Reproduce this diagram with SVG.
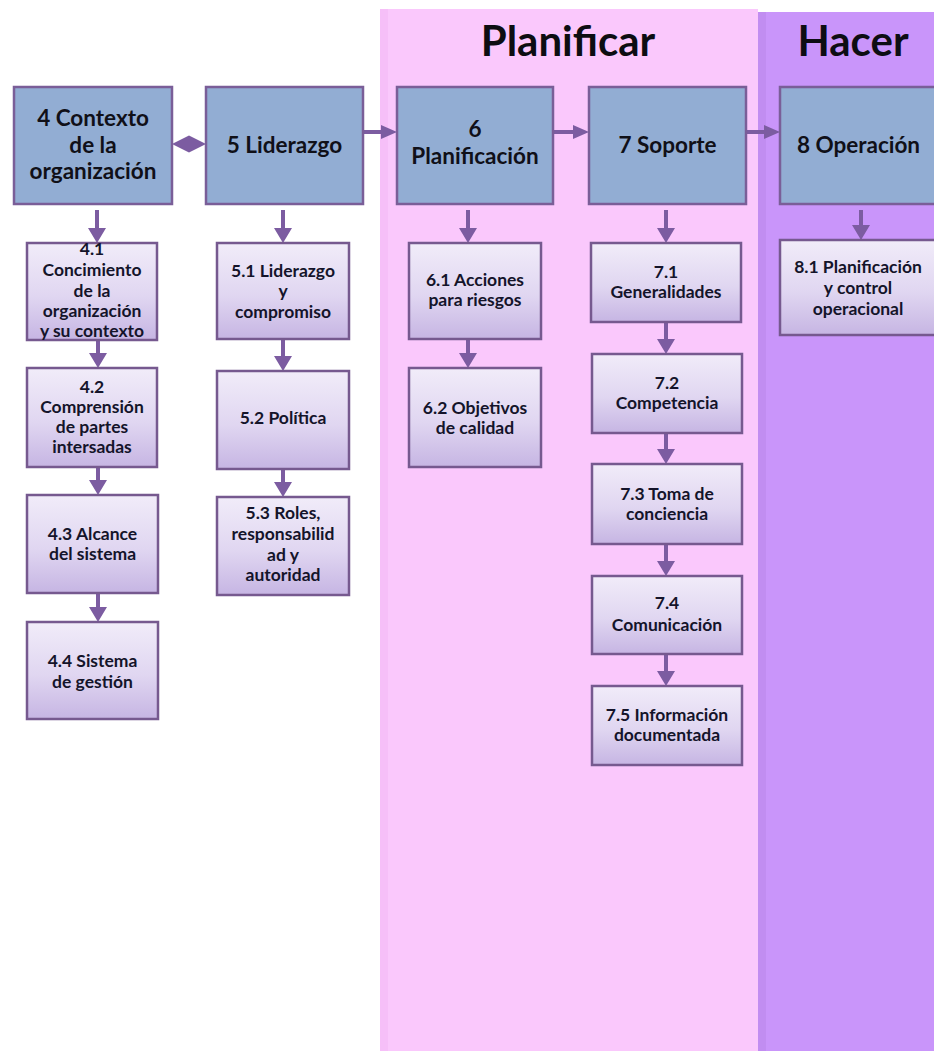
<svg xmlns="http://www.w3.org/2000/svg" width="934" height="1051" viewBox="0 0 934 1051">
<defs>
<linearGradient id="subg" x1="0" y1="0" x2="0" y2="1">
<stop offset="0" stop-color="#F1ECF9"/>
<stop offset="0.55" stop-color="#E0D6F1"/>
<stop offset="1" stop-color="#C6B5E3"/>
</linearGradient>
<style>
.main{fill:#92ADD3;stroke:#7A5E98;stroke-width:2.5}
.sub{fill:url(#subg);stroke:#76598F;stroke-width:2.5}
.t{font-family:Lato,"Open Sans","Liberation Sans",sans-serif;font-weight:bold;text-anchor:middle;fill:#14142A}
.mt{font-size:22.5px;fill:#101018}
.st{font-size:17.5px}
.hd{font-size:42px;fill:#0D0D12}
.arr{fill:#7C5CA1}
</style>
</defs>
<rect x="0" y="0" width="934" height="1051" fill="#FFFFFF"/>
<rect x="380" y="9" width="378" height="1042" fill="#FAC8FC"/>
<rect x="380" y="9" width="8" height="1042" fill="#F6BFF8"/>
<rect x="758" y="12" width="176" height="1042" fill="#C995FA"/>
<rect x="758" y="12" width="8" height="1042" fill="#C18DF1"/>
<text class="t hd" x="568" y="56">Planificar</text>
<text class="t hd" x="853" y="56">Hacer</text>
<g id="connectors">
<path class="arr" d="M172,144 L189,135.5 L206,144 L189,152.5 Z"/>
<path class="arr" d="M363,130 H381 V125 L397,132 L381,139 V134 H363 Z"/>
<path class="arr" d="M553,130 H573 V125 L589,132 L573,139 V134 H553 Z"/>
<path class="arr" d="M746,130 H764 V125 L780,132 L764,139 V134 H746 Z"/>
<path class="arr" d="M95,210 V228 H88 L97,243 L106,228 H99 V210 Z"/>
<path class="arr" d="M96,340 V353 H89 L98,368 L107,353 H100 V340 Z"/>
<path class="arr" d="M96,467 V480 H89 L98,495 L107,480 H100 V467 Z"/>
<path class="arr" d="M96,593 V607 H89 L98,622 L107,607 H100 V593 Z"/>
<path class="arr" d="M281,210 V228 H274 L283,243 L292,228 H285 V210 Z"/>
<path class="arr" d="M281,339 V356 H274 L283,371 L292,356 H285 V339 Z"/>
<path class="arr" d="M281,469 V482 H274 L283,497 L292,482 H285 V469 Z"/>
<path class="arr" d="M466,210 V228 H459 L468,243 L477,228 H470 V210 Z"/>
<path class="arr" d="M466,339 V353 H459 L468,368 L477,353 H470 V339 Z"/>
<path class="arr" d="M664,210 V228 H657 L666,243 L675,228 H668 V210 Z"/>
<path class="arr" d="M664,322 V339 H657 L666,354 L675,339 H668 V322 Z"/>
<path class="arr" d="M664,433 V449 H657 L666,464 L675,449 H668 V433 Z"/>
<path class="arr" d="M664,544 V561 H657 L666,576 L675,561 H668 V544 Z"/>
<path class="arr" d="M664,654 V671 H657 L666,686 L675,671 H668 V654 Z"/>
<path class="arr" d="M859,210 V225 H852 L861,240 L870,225 H863 V210 Z"/>
</g>
<g id="n4"><rect class="main" x="14" y="87" width="158" height="117"/>
<text class="t mt" x="93" y="126">4 Contexto</text><text class="t mt" x="93" y="153">de la</text><text class="t mt" x="93" y="179">organización</text></g>
<g id="n5"><rect class="main" x="206" y="87" width="157" height="117"/>
<text class="t mt" x="284.5" y="153">5 Liderazgo</text></g>
<g id="n6"><rect class="main" x="397" y="87" width="156" height="117"/>
<text class="t mt" x="475" y="137">6</text><text class="t mt" x="475" y="164">Planificación</text></g>
<g id="n7"><rect class="main" x="589" y="87" width="157" height="117"/>
<text class="t mt" x="667.5" y="153">7 Soporte</text></g>
<g id="n8"><rect class="main" x="780" y="87" width="157" height="117"/>
<text class="t mt" x="858.5" y="153">8 Operación</text></g>

<g id="n41"><rect class="sub" x="27" y="243" width="130" height="97"/>
<text class="t st" x="92" y="255">4.1</text><text class="t st" x="92" y="276">Concimiento</text><text class="t st" x="92" y="297">de la</text><text class="t st" x="92" y="317">organización</text><text class="t st" x="92" y="337">y su contexto</text></g>
<g id="n42"><rect class="sub" x="27" y="368" width="130" height="99"/>
<text class="t st" x="92" y="393">4.2</text><text class="t st" x="92" y="413">Comprensión</text><text class="t st" x="92" y="433">de partes</text><text class="t st" x="92" y="453">intersadas</text></g>
<g id="n43"><rect class="sub" x="27" y="495" width="131" height="98"/>
<text class="t st" x="92.5" y="540">4.3 Alcance</text><text class="t st" x="92.5" y="560">del sistema</text></g>
<g id="n44"><rect class="sub" x="27" y="622" width="131" height="97"/>
<text class="t st" x="92.5" y="667">4.4 Sistema</text><text class="t st" x="92.5" y="688">de gestión</text></g>

<g id="n51"><rect class="sub" x="217" y="243" width="132" height="96"/>
<text class="t st" x="283" y="277">5.1 Liderazgo</text><text class="t st" x="283" y="297">y</text><text class="t st" x="283" y="318">compromiso</text></g>
<g id="n52"><rect class="sub" x="217" y="371" width="132" height="98"/>
<text class="t st" x="283" y="424">5.2 Política</text></g>
<g id="n53"><rect class="sub" x="217" y="497" width="132" height="98"/>
<text class="t st" x="283" y="519">5.3 Roles,</text><text class="t st" x="283" y="540">responsabilid</text><text class="t st" x="283" y="561">ad y</text><text class="t st" x="283" y="581">autoridad</text></g>

<g id="n61"><rect class="sub" x="409" y="243" width="132" height="96"/>
<text class="t st" x="475" y="286">6.1 Acciones</text><text class="t st" x="475" y="306">para riesgos</text></g>
<g id="n62"><rect class="sub" x="409" y="368" width="132" height="99"/>
<text class="t st" x="475" y="414">6.2 Objetivos</text><text class="t st" x="475" y="434">de calidad</text></g>

<g id="n71"><rect class="sub" x="591" y="243" width="150" height="79"/>
<text class="t st" x="666" y="278">7.1</text><text class="t st" x="666" y="298">Generalidades</text></g>
<g id="n72"><rect class="sub" x="592" y="354" width="150" height="79"/>
<text class="t st" x="667" y="389">7.2</text><text class="t st" x="667" y="409">Competencia</text></g>
<g id="n73"><rect class="sub" x="592" y="464" width="150" height="80"/>
<text class="t st" x="667" y="500" fill="#050508">7.3 Toma de</text><text class="t st" x="667" y="520">conciencia</text></g>
<g id="n74"><rect class="sub" x="592" y="576" width="150" height="78"/>
<text class="t st" x="667" y="609">7.4</text><text class="t st" x="667" y="631">Comunicación</text></g>
<g id="n75"><rect class="sub" x="592" y="686" width="150" height="79"/>
<text class="t st" x="667" y="721">7.5 Información</text><text class="t st" x="667" y="741">documentada</text></g>

<g id="n81"><rect class="sub" x="780" y="240" width="160" height="95"/>
<text class="t st" x="858" y="273">8.1 Planificación</text><text class="t st" x="858" y="294">y control</text><text class="t st" x="858" y="315">operacional</text></g>
</svg>
